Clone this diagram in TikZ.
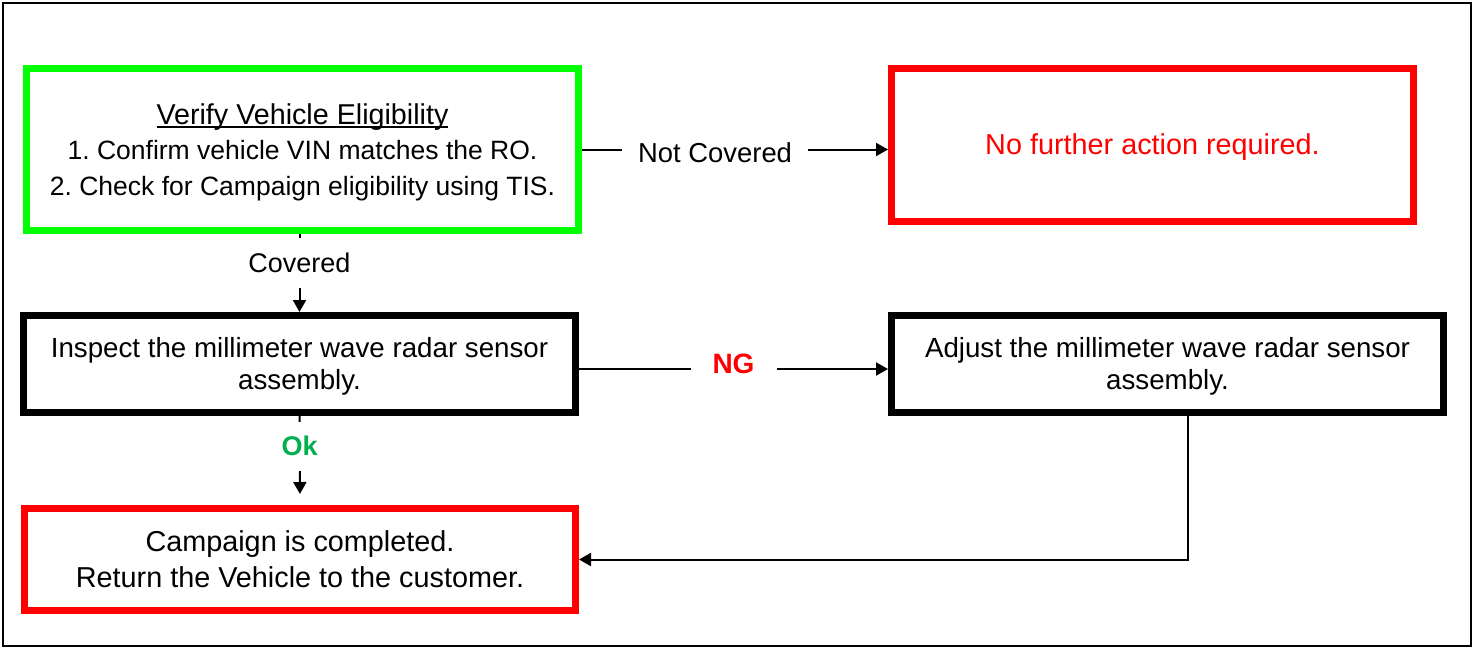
\documentclass[tikz,border=0pt]{standalone}
\usepackage{fontspec}
\setmainfont{Liberation Sans}
\usetikzlibrary{arrows.meta}
\definecolor{bgreen}{RGB}{0,255,0}
\definecolor{bred}{RGB}{255,0,0}
\definecolor{okgreen}{RGB}{0,176,80}
\frenchspacing
\newcommand{\fs}{\rule[-0.212em]{0pt}{1.117em}}
\newcommand{\myul}[1]{\setbox0\hbox{#1}\rlap{\rule[-2pt]{\wd0}{1pt}}\box0}
\newcommand{\fsz}[2]{\fontsize{#1}{#2}\selectfont}
\begin{document}
\begin{tikzpicture}[x=0.5pt,y=-0.5pt,
  box/.style={draw, line width=3.5pt, rectangle, align=center, inner sep=0pt},
  conn/.style={draw, line width=1pt, -{Triangle[length=6pt,width=6.5pt]}},
  lbl/.style={fill=white, inner sep=0pt, font=\fsz{13.7pt}{16pt}}]
\useasboundingbox (0,0) rectangle (1476,648);
\draw[line width=1pt] (3,3) rectangle (1471,646);

\node[box, draw=bgreen, minimum width=276pt, minimum height=81pt,
  font=\fsz{13.25pt}{17.75pt}] (verify) at (302.5,149.5)
  {{\fsz{14.35pt}{17.75pt}\fs\myul{Verify Vehicle Eligibility}}\\1. Confirm vehicle VIN matches the RO.\\\fs 2. Check for Campaign eligibility using TIS.};
\node[box, draw=bred, text=bred, minimum width=261pt, minimum height=76.5pt,
  font=\fsz{14.4pt}{17.75pt}] (nofurther) at (1152.5,145)
  {\fs No further action required.};
\node[box, draw=black, minimum width=276pt, minimum height=48.5pt,
  font=\fsz{13.85pt}{16pt}] (inspect) at (299.5,364)
  {\fs Inspect the millimeter wave radar sensor\\\fs assembly.};
\node[box, draw=black, minimum width=276pt, minimum height=48.5pt,
  font=\fsz{13.85pt}{16pt}] (adjust) at (1167.5,364)
  {\fs Adjust the millimeter wave radar sensor\\\fs assembly.};
\node[box, draw=bred, minimum width=275.5pt, minimum height=51pt,
  font=\fsz{14.4pt}{18pt}] (done) at (300,559.5)
  {\fs Campaign is completed.\\\fs Return the Vehicle to the customer.};

\draw[conn] (verify.east) -- node[lbl, pos=0.435, minimum width=93pt, minimum height=12pt, yshift=-1.5pt] {Not Covered}
  (verify.east -| nofurther.west);
\draw[conn] (inspect.north |- verify.south) -- node[lbl, pos=0.37, minimum width=60pt, minimum height=25pt,
  font=\fsz{13.5pt}{16pt}] {Covered}
  (inspect.north);
\draw[conn] ([yshift=-2.5pt]inspect.east) -- node[lbl, pos=0.5, minimum width=43pt, minimum height=14pt, yshift=2.5pt,
  text=bred, font=\fsz{14pt}{17pt}\bfseries] {NG}
  ([yshift=-2.5pt]inspect.east -| adjust.west);
\draw[conn, shorten >=5.5pt] (inspect.south) -- node[lbl, pos=0.337, minimum width=30pt, minimum height=24.5pt,
  text=okgreen, font=\fsz{13.5pt}{16pt}\bfseries] {Ok} (done.north);
\draw[conn] ([xshift=10.25pt]adjust.south) |- (done.east);
\end{tikzpicture}
\end{document}
